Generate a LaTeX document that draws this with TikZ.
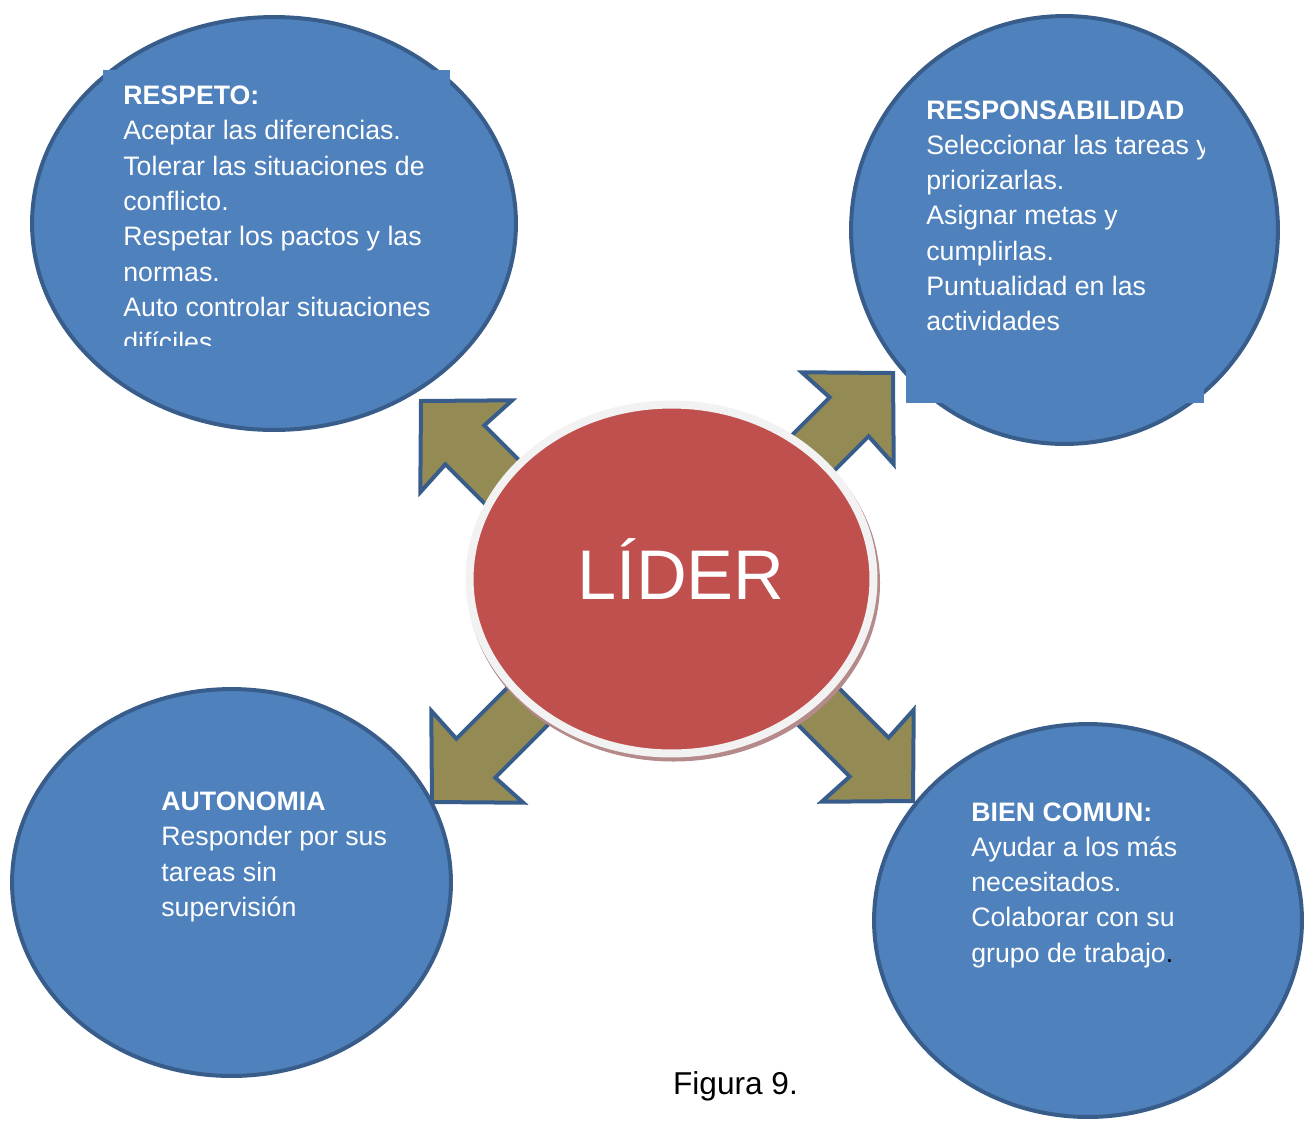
\documentclass[tikz,border=0pt]{standalone}
\usepackage{fontspec}
\setmainfont{Liberation Sans}
\usetikzlibrary{shapes.geometric}

\definecolor{bubblefill}{HTML}{4F81BD}
\definecolor{bubbleline}{HTML}{385D8A}
\definecolor{arrowfill}{HTML}{948A54}
\definecolor{liderred}{HTML}{C0504D}
\definecolor{ringgray}{HTML}{F2F2F2}
\definecolor{shadowred}{HTML}{B48A8A}

\begin{document}
\begin{tikzpicture}[x=0.02cm, y=-0.02cm]
	\tikzstyle{bubble} = [draw=bubbleline, fill=bubblefill, ellipse, line width=0.08cm,
	inner sep=0pt]
	\tikzstyle{bubbletext} = [text=white, anchor=north west, inner sep=0pt, align=left,
	font=\fontsize{15.2}{20.1}\selectfont]
	\tikzstyle{blockarrow} = [draw=bubbleline, fill=arrowfill, line width=0.08cm,
	line join=miter]

	\useasboundingbox (0,0) rectangle (1304,1120);

	% the four values
	\path
		node[bubble, minimum width=9.68cm, minimum height=8.26cm] (respeto) at (274,223.5) {}
		node[bubble, minimum width=8.54cm, minimum height=8.56cm] (respons) at (1064.5,230) {}
		node[bubble, minimum width=8.78cm, minimum height=7.74cm] (autonomia) at (231.5,882.5) {}
		node[bubble, minimum width=8.56cm, minimum height=7.86cm] (bien) at (1088,920.5) {}
		;

	\begin{scope}
		\clip (103,70) rectangle (450,345);
		\fill[bubblefill] (103,70) rectangle (450,345);
		\node[bubbletext] (respetotxt) at (123,85.5) {\textbf{RESPETO:}\\
			Aceptar las diferencias.\\
			Tolerar las situaciones de\\
			conflicto.\\
			Respetar los pactos y las\\
			normas.\\
			Auto controlar situaciones\\
			difíciles};
	\end{scope}

	\begin{scope}
		\clip (906,90) rectangle (1204,403);
		\fill[bubblefill] (906,90) rectangle (1204,403);
		\node[bubbletext] (responstxt) at (926,100) {\textbf{RESPONSABILIDAD}\\
			Seleccionar las tareas y\\
			priorizarlas.\\
			Asignar metas y\\
			cumplirlas.\\
			Puntualidad en las\\
			actividades};
	\end{scope}

	\node[bubbletext] (autonomiatxt) at (161,791.5) {\textbf{AUTONOMIA}\\
		Responder por sus\\
		tareas sin\\
		supervisión};
	\node[bubbletext] (bientxt) at (971,802) {\textbf{BIEN COMUN:}\\
		Ayudar a los más\\
		necesitados.\\
		Colaborar con su\\
		grupo de trabajo{\color{black}.}};

	% arrows out of the centre
	\coordinate (tipA) at (421,401);
	\coordinate (tipB) at (893,373);
	\coordinate (tipC) at (432,802);
	\coordinate (tipD) at (913,801);
	\foreach \tip/\ang in {tipA/135, tipB/45, tipC/225, tipD/-45}
		\draw[blockarrow, shift={(\tip)}, rotate=\ang]
			(0,0) -- (-64,65) -- (-62,27.5) -- (-190,27.5)
			-- (-190,-27.5) -- (-62,-27.5) -- (-64,-65) -- cycle;

	% centre
	\fill[shadowred] (673.5,583) ellipse [x radius=206.5, y radius=178.5];
	\node[draw=ringgray, fill=liderred, ellipse, line width=0.16cm,
		minimum width=8.08cm, minimum height=6.98cm] (lider) at (671.5,579) {};
	\node[anchor=base, text=white, font=\fontsize{40}{48}\selectfont] (lidertxt)
		at (681,599) {LÍDER};

	\node[anchor=base, font=\fontsize{18}{22}\selectfont] (caption) at (735.5,1094) {Figura 9.};
\end{tikzpicture}
\end{document}
